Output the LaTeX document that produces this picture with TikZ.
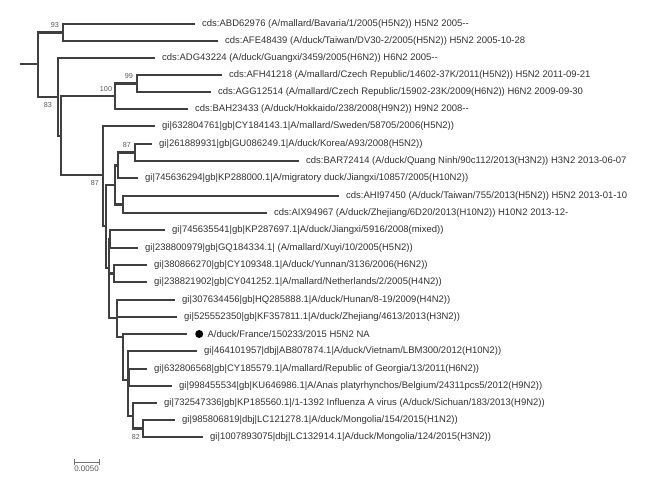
\documentclass[tikz,border=0pt]{standalone}
\usepackage{fontspec}
\setmainfont{Liberation Sans}
\usetikzlibrary{positioning}
\newcommand{\dd}{-\kern0pt-}
\tikzset{
  branch/.style={draw=black!75, line width=2.5pt},
  leaf/.style={inner sep=0pt, text=black!80, font=\fontsize{9.5}{11}\selectfont},
  boot/.style={inner sep=0pt, text=black!65, font=\fontsize{7.2}{8}\selectfont},
  scalebar/.style={draw=black!55, line width=0.8pt},
  scalelabel/.style={inner sep=0pt, text=black!65, font=\fontsize{8}{9}\selectfont},
  marker/.style={circle, fill=black, minimum size=8pt, inner sep=0pt}
}

\begin{document}
\begin{tikzpicture}[x=1pt, y=-1pt]
  \useasboundingbox (0,0) rectangle (649,488);
  % inner nodes
  \coordinate (stem) at (20,64);
  \coordinate (r) at (38,64);
  \coordinate (n93) at (63,32.5);
  \coordinate (n83) at (58,97);
  \coordinate (nb) at (61,136);
  \coordinate (n100) at (115,96);
  \coordinate (n99) at (137,83.5);
  \coordinate (n87) at (103,175);
  \coordinate (nd) at (106,226);
  \coordinate (nc) at (115,185);
  \coordinate (ne) at (118,165.5);
  \coordinate (n87b) at (135,152.5);
  \coordinate (nahi) at (123,204.5);
  \coordinate (nx) at (109,268);
  \coordinate (n1314) at (110,239);
  \coordinate (n1516) at (114,273.5);
  \coordinate (nl) at (117,318);
  \coordinate (nf) at (123,337);
  \coordinate (ng) at (128,380);
  \coordinate (nh) at (129,377.5);
  \coordinate (ng2) at (133,416);
  \coordinate (n82) at (143,428.5);
  % branch tips
  \coordinate (t1) at (195,24);
  \coordinate (t2) at (218,41);
  \coordinate (t3) at (155,58);
  \coordinate (t4) at (222,75);
  \coordinate (t5) at (211,92);
  \coordinate (t6) at (188,109);
  \coordinate (t7) at (155,126);
  \coordinate (t8) at (152,144);
  \coordinate (t9) at (299,161);
  \coordinate (t10) at (138,178);
  \coordinate (t11) at (339,196);
  \coordinate (t12) at (267,213);
  \coordinate (t13) at (165,230);
  \coordinate (t14) at (138,248);
  \coordinate (t15) at (147,265);
  \coordinate (t16) at (147,282);
  \coordinate (t17) at (175,300);
  \coordinate (t18) at (177,317);
  \coordinate (t19) at (187,334);
  \coordinate (t20) at (197,351);
  \coordinate (t21) at (147,369);
  \coordinate (t22) at (172,386);
  \coordinate (t23) at (157,403);
  \coordinate (t24) at (175,420);
  \coordinate (t25) at (203,437);

  % branches
  \draw[branch] (stem) -- (r);
  \draw[branch] (r) |- (n93) (r) |- (n83);
  \draw[branch] (n93) |- (t1) (n93) |- (t2);
  \draw[branch] (n83) |- (t3) (n83) |- (nb);
  \draw[branch] (nb) |- (n100) (nb) |- (n87);
  \draw[branch] (n100) |- (n99) (n100) |- (t6);
  \draw[branch] (n99) |- (t4) (n99) |- (t5);
  \draw[branch] (n87) |- (t7) (n87) |- (nd);
  \draw[branch] (nd) |- (nc) (nd) |- (nx);
  \draw[branch] (nc) |- (ne) (nc) |- (nahi);
  \draw[branch] (ne) |- (n87b) (ne) |- (t10);
  \draw[branch] (n87b) |- (t8) (n87b) |- (t9);
  \draw[branch] (nahi) |- (t11) (nahi) |- (t12);
  \draw[branch] (nx) |- (n1314) (nx) |- (n1516) (nx) |- (nl);
  \draw[branch] (n1314) |- (t13) (n1314) |- (t14);
  \draw[branch] (n1516) |- (t15) (n1516) |- (t16);
  \draw[branch] (nl) |- (t17) (nl) |- (t18) (nl) |- (nf);
  \draw[branch] (nf) |- (t19) (nf) |- (ng);
  \draw[branch] (ng) |- (t20) (ng) |- (nh) (ng) |- (ng2);
  \draw[branch] (nh) |- (t21) (nh) |- (t22);
  \draw[branch] (ng2) |- (t23) (ng2) |- (n82);
  \draw[branch] (n82) |- (t24) (n82) |- (t25);

  % bootstrap values
  \node[boot] (b93) at (55,25) {93};
  \node[boot] (b83) at (48,105) {83};
  \node[boot] (b100) at (106,89) {100};
  \node[boot] (b99) at (129,76) {99};
  \node[boot] (b87a) at (95,183) {87};
  \node[boot] (b87b) at (127,145) {87};
  \node[boot] (b82) at (136,437) {82};

  % taxa
  \node[leaf, right=7pt of t1] (l1) {cds:ABD62976 (A/mallard/Bavaria/1/2005(H5N2)) H5N2 2005\dd};
  \node[leaf, right=7pt of t2] (l2) {cds:AFE48439 (A/duck/Taiwan/DV30-2/2005(H5N2)) H5N2 2005-10-28};
  \node[leaf, right=7pt of t3] (l3) {cds:ADG43224 (A/duck/Guangxi/3459/2005(H6N2)) H6N2 2005\dd};
  \node[leaf, right=7pt of t4] (l4) {cds:AFH41218 (A/mallard/Czech Republic/14602-37K/2011(H5N2)) H5N2 2011-09-21};
  \node[leaf, right=7pt of t5] (l5) {cds:AGG12514 (A/mallard/Czech Republic/15902-23K/2009(H6N2)) H6N2 2009-09-30};
  \node[leaf, right=7pt of t6] (l6) {cds:BAH23433 (A/duck/Hokkaido/238/2008(H9N2)) H9N2 2008\dd};
  \node[leaf, right=7pt of t7] (l7) {gi|632804761|gb|CY184143.1|A/mallard/Sweden/58705/2006(H5N2))};
  \node[leaf, right=7pt of t8] (l8) {gi|261889931|gb|GU086249.1|A/duck/Korea/A93/2008(H5N2))};
  \node[leaf, right=7pt of t9] (l9) {cds:BAR72414 (A/duck/Quang Ninh/90c112/2013(H3N2)) H3N2 2013-06-07};
  \node[leaf, right=7pt of t10] (l10) {gi|745636294|gb|KP288000.1|A/migratory duck/Jiangxi/10857/2005(H10N2))};
  \node[leaf, right=7pt of t11] (l11) {cds:AHI97450 (A/duck/Taiwan/755/2013(H5N2)) H5N2 2013-01-10};
  \node[leaf, right=7pt of t12] (l12) {cds:AIX94967 (A/duck/Zhejiang/6D20/2013(H10N2)) H10N2 2013-12-};
  \node[leaf, right=7pt of t13] (l13) {gi|745635541|gb|KP287697.1|A/duck/Jiangxi/5916/2008(mixed))};
  \node[leaf, right=7pt of t14] (l14) {gi|238800979|gb|GQ184334.1| (A/mallard/Xuyi/10/2005(H5N2))};
  \node[leaf, right=7pt of t15] (l15) {gi|380866270|gb|CY109348.1|A/duck/Yunnan/3136/2006(H6N2))};
  \node[leaf, right=7pt of t16] (l16) {gi|238821902|gb|CY041252.1|A/mallard/Netherlands/2/2005(H4N2))};
  \node[leaf, right=7pt of t17] (l17) {gi|307634456|gb|HQ285888.1|A/duck/Hunan/8-19/2009(H4N2))};
  \node[leaf, right=7pt of t18] (l18) {gi|525552350|gb|KF357811.1|A/duck/Zhejiang/4613/2013(H3N2))};
  \node[marker, right=8pt of t19] (dot) {};
  \node[leaf, right=4pt of dot] (l19) {A/duck/France/150233/2015 H5N2 NA};
  \node[leaf, right=7pt of t20] (l20) {gi|464101957|dbj|AB807874.1|A/duck/Vietnam/LBM300/2012(H10N2))};
  \node[leaf, right=7pt of t21] (l21) {gi|632806568|gb|CY185579.1|A/mallard/Republic of Georgia/13/2011(H6N2))};
  \node[leaf, right=7pt of t22] (l22) {gi|998455534|gb|KU646986.1|A/Anas platyrhynchos/Belgium/24311pcs5/2012(H9N2))};
  \node[leaf, right=7pt of t23] (l23) {gi|732547336|gb|KP185560.1|/1-1392 Influenza A virus (A/duck/Sichuan/183/2013(H9N2))};
  \node[leaf, right=7pt of t24] (l24) {gi|985806819|dbj|LC121278.1|A/duck/Mongolia/154/2015(H1N2))};
  \node[leaf, right=7pt of t25] (l25) {gi|1007893075|dbj|LC132914.1|A/duck/Mongolia/124/2015(H3N2))};

  % scale bar
  \coordinate (sb1) at (74,462);
  \coordinate (sb2) at (99,462);
  \coordinate (sbm) at (86.5,462);
  \draw[scalebar] (sb1) -- (sb2);
  \draw[scalebar] ([yshift=3pt]sb1) -- ([yshift=-3pt]sb1);
  \draw[scalebar] ([yshift=3pt]sb2) -- ([yshift=-3pt]sb2);
  \node[scalelabel, below=4pt of sbm] (sblabel) {0.0050};
\end{tikzpicture}
\end{document}
